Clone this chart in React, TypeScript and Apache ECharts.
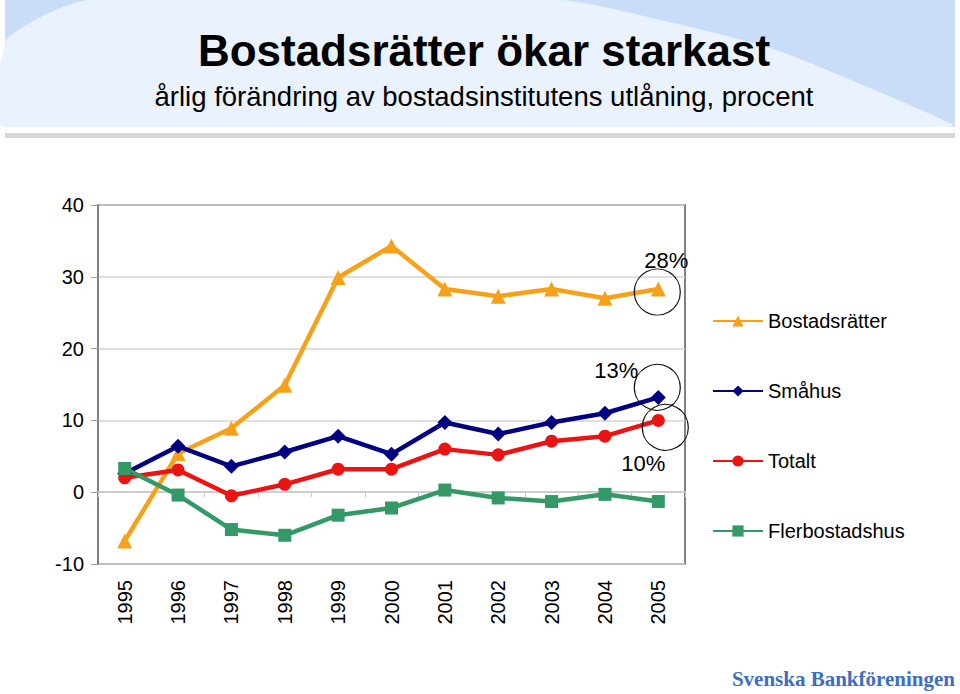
import React, { useEffect, useRef } from "react";
import * as echarts from "echarts";

const years = ["1995", "1996", "1997", "1998", "1999", "2000", "2001", "2002", "2003", "2004", "2005"];
const bostadsratter = [-6.8, 5.4, 8.9, 14.9, 29.9, 34.3, 28.3, 27.3, 28.3, 27.0, 28.3];
const smahus = [2.6, 6.4, 3.6, 5.6, 7.8, 5.3, 9.7, 8.1, 9.7, 11.0, 13.2];
const totalt = [2.0, 3.1, -0.5, 1.1, 3.2, 3.2, 6.0, 5.2, 7.1, 7.8, 10.0];
const flerbostadshus = [3.3, -0.4, -5.2, -6.0, -3.2, -2.2, 0.3, -0.8, -1.3, -0.3, -1.3];
const seriesNames = ["Bostadsrätter", "Småhus", "Totalt", "Flerbostadshus"];
const yTicks = { min: -10, max: 40, interval: 10 };
const titleText = "Bostadsrätter ökar starkast";
const subtitleText = "årlig förändring av bostadsinstitutens utlåning, procent";
const logoText = "Svenska Bankföreningen";

const FONT = "'Liberation Sans', Arial, sans-serif";

function circleMark(value: number, label: string, symOff: number[], labOff: number[]) {
  return {
    coord: ["2005", value],
    symbol: "circle",
    symbolSize: 46,
    symbolOffset: symOff,
    itemStyle: { color: "rgba(0,0,0,0)", borderColor: "#111", borderWidth: 1.2 },
    label: {
      show: true,
      formatter: label,
      position: "inside",
      offset: labOff,
      color: "#000",
      fontSize: 22,
      fontFamily: FONT,
    },
  };
}

export default function App() {
  const ref = useRef<HTMLDivElement>(null);
  useEffect(() => {
    if (!ref.current) return;
    const chart = echarts.init(ref.current, undefined, { renderer: "svg" });
    const lineSeries = (name: string, data: number[], color: string, symbol: string, size: number, extra: any = {}) => ({
      name,
      type: "line",
      data,
      xAxisIndex: 0,
      yAxisIndex: 0,
      symbol,
      symbolSize: size,
      itemStyle: { color },
      lineStyle: { color, width: 4.5 },
      z: 3,
      ...extra,
    });
    chart.setOption({
      animation: false,
      backgroundColor: "#ffffff",
      graphic: [
        { type: "rect", z: -10, shape: { x: 5, y: 0, width: 950, height: 127 }, style: { fill: "#c9ddf8" } },
        {
          type: "polygon",
          z: -9,
          shape: {
            points: [
              [90, 0], [560, 0], [660, 20], [770, 48], [870, 88], [952, 124], [952, 127], [5, 127], [5, 43], [28, 24], [58, 9],
            ],
            smooth: 0.25,
          },
          style: { fill: "#e9f2fd" },
        },
        { type: "rect", z: -8, shape: { x: 5, y: 127, width: 950, height: 6 }, style: { fill: "#ffffff" } },
        { type: "rect", z: -8, shape: { x: 5, y: 133, width: 950, height: 5 }, style: { fill: "#d6d6d6" } },
        {
          type: "text",
          x: 484,
          y: 50,
          style: { text: titleText, fontSize: 44, fontWeight: "bold", fontFamily: FONT, fill: "#000", align: "center", verticalAlign: "middle" },
        },
        {
          type: "text",
          x: 484,
          y: 96,
          style: { text: subtitleText, fontSize: 27.5, fontFamily: FONT, fill: "#000", align: "center", verticalAlign: "middle" },
        },
        {
          type: "text",
          x: 955,
          y: 679,
          style: {
            text: logoText,
            fontSize: 21,
            fontWeight: "bold",
            fontFamily: "'Liberation Serif', 'DejaVu Serif', serif",
            fill: "#3d6ec4",
            align: "right",
            verticalAlign: "middle",
          },
        },
      ],
      grid: {
        left: 98,
        right: 275,
        top: 205,
        bottom: 130,
        show: true,
        borderColor: "#808080",
        borderWidth: 2,
        backgroundColor: "rgba(0,0,0,0)",
      },
      legend: {
        orient: "vertical",
        left: 707,
        top: 306,
        itemWidth: 50,
        itemHeight: 14,
        itemGap: 50,
        textStyle: { fontSize: 20, fontFamily: FONT, color: "#000" },
        data: seriesNames,
      },
      xAxis: [
        {
          type: "category",
          data: years,
          boundaryGap: true,
          axisLine: { show: false, onZero: false },
          axisTick: { show: false },
          axisLabel: { rotate: 90, fontSize: 20, fontFamily: FONT, color: "#000", margin: 16 },
          splitLine: { show: false },
        },
        {
          type: "category",
          data: years,
          boundaryGap: true,
          position: "bottom",
          axisLine: { show: true, onZero: true, lineStyle: { color: "#c8c8c8", width: 1.5 } },
          axisTick: { show: true, length: 5, lineStyle: { color: "#c8c8c8" } },
          axisLabel: { show: false },
          splitLine: { show: false },
        },
      ],
      yAxis: {
        type: "value",
        min: yTicks.min,
        max: yTicks.max,
        interval: yTicks.interval,
        axisLine: { show: true, lineStyle: { color: "#808080", width: 2 } },
        axisTick: { show: true, length: 7, lineStyle: { color: "#a0a0a0" } },
        axisLabel: { fontSize: 20, fontFamily: FONT, color: "#000", margin: 14 },
        splitLine: { show: true, lineStyle: { color: "#d4d4d4", width: 1.5 } },
      },
      series: [
        lineSeries(seriesNames[0], bostadsratter, "#f7a11a", "triangle", 15, {
          markPoint: { data: [circleMark(bostadsratter[10], "28%", [-1, 3], [9, -32])] },
        }),
        lineSeries(seriesNames[1], smahus, "#000080", "diamond", 15, {
          markPoint: { data: [circleMark(smahus[10], "13%", [-1, -10], [-41, -17])] },
        }),
        lineSeries(seriesNames[2], totalt, "#ec1313", "circle", 13, {
          markPoint: { data: [circleMark(totalt[10], "10%", [7, 7], [-22, 36])] },
        }),
        lineSeries(seriesNames[3], flerbostadshus, "#339966", "rect", 13),
      ],
    });
    return () => chart.dispose();
  }, []);
  return <div ref={ref} style={{ position: "fixed", left: 0, top: 0, width: 960, height: 694 }} />;
}
